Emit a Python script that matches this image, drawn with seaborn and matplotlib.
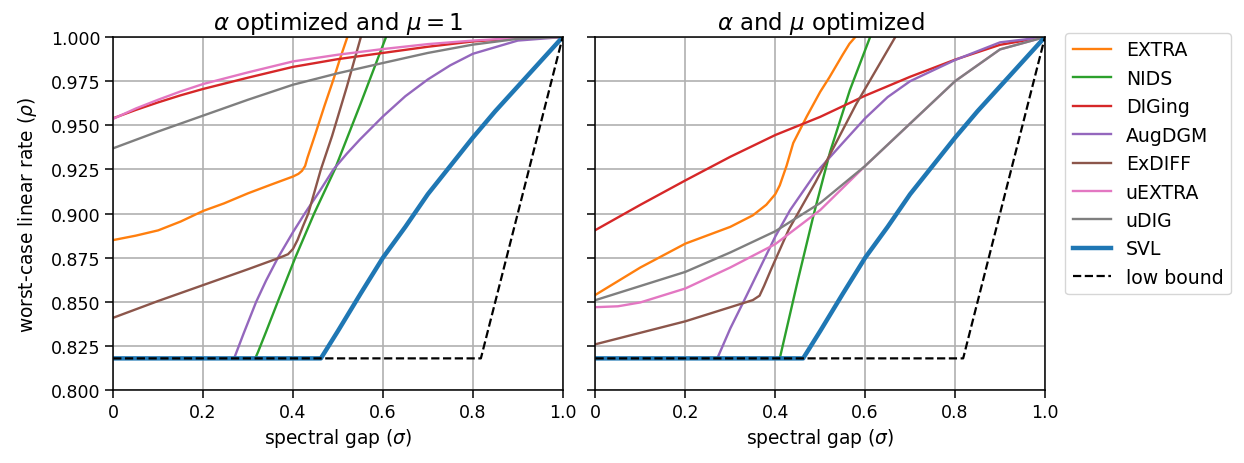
import matplotlib
matplotlib.use("Agg")
import matplotlib.pyplot as plt
import seaborn as sns
from matplotlib.ticker import FormatStrFormatter

# ---- panel 1: alpha optimized, mu = 1 ----
extra_x1 = [0, 0.05, 0.1, 0.15, 0.2, 0.2467, 0.3, 0.35, 0.4, 0.412, 0.42, 0.427, 0.432, 0.449, 0.47, 0.49, 0.505, 0.521, 0.53]
extra_y1 = [0.885, 0.8875, 0.8905, 0.8955, 0.9015, 0.9058, 0.9115, 0.9163, 0.921, 0.9225, 0.9242, 0.927, 0.9315, 0.9445, 0.961, 0.976, 0.988, 1.0, 1.007]
nids_x1 = [0.316, 0.322, 0.34, 0.366, 0.405, 0.447, 0.493, 0.55, 0.607, 0.615]
nids_y1 = [0.818, 0.8215, 0.833, 0.85, 0.875, 0.9, 0.925, 0.962, 1.0, 1.005]
diging_x1 = [0, 0.05, 0.1, 0.15, 0.2, 0.3, 0.4, 0.5, 0.6, 0.7, 0.8, 0.9, 1.0]
diging_y1 = [0.954, 0.9587, 0.963, 0.967, 0.9706, 0.977, 0.9831, 0.9875, 0.991, 0.9945, 0.9975, 0.9993, 1.0]
augdgm_x1 = [0.269, 0.29, 0.318, 0.34, 0.3665, 0.4, 0.426, 0.46, 0.49, 0.52, 0.549, 0.6, 0.65, 0.7, 0.75, 0.8, 0.9, 1.0]
augdgm_y1 = [0.818, 0.832, 0.85, 0.862, 0.875, 0.8895, 0.9, 0.913, 0.925, 0.934, 0.942, 0.955, 0.9665, 0.976, 0.984, 0.9905, 0.998, 1.0]
exdiff_x1 = [0, 0.1, 0.2, 0.3, 0.37, 0.389, 0.4, 0.41, 0.4224, 0.434, 0.462, 0.487, 0.52, 0.551, 0.56]
exdiff_y1 = [0.841, 0.8505, 0.8595, 0.8685, 0.875, 0.877, 0.88, 0.885, 0.893, 0.9, 0.925, 0.944, 0.972, 1.0, 1.008]
uextra_x1 = [0, 0.05, 0.1, 0.15, 0.2, 0.3, 0.4, 0.5, 0.6, 0.7, 0.8, 0.9, 1.0]
uextra_y1 = [0.9537, 0.9595, 0.9645, 0.9692, 0.9734, 0.980, 0.9862, 0.990, 0.9932, 0.996, 0.998, 0.9995, 1.0]
udig_x1 = [0, 0.1, 0.2, 0.3, 0.4, 0.5, 0.6, 0.7, 0.8, 0.9, 1.0]
udig_y1 = [0.937, 0.9465, 0.9555, 0.9645, 0.973, 0.9795, 0.9853, 0.991, 0.9957, 0.999, 1.0]

# ---- panel 2: alpha and mu optimized ----
extra_x2 = [0, 0.1, 0.2, 0.3, 0.35, 0.38, 0.4, 0.41, 0.425, 0.44, 0.47, 0.5, 0.52, 0.55, 0.565, 0.578, 0.585]
extra_y2 = [0.854, 0.8695, 0.883, 0.8925, 0.899, 0.905, 0.911, 0.916, 0.927, 0.940, 0.955, 0.969, 0.977, 0.99, 0.9962, 1.0, 1.003]
nids_x2 = [0.41, 0.45, 0.486, 0.522, 0.566, 0.611, 0.62]
nids_y2 = [0.818, 0.862, 0.9, 0.935, 0.97, 1.0, 1.006]
diging_x2 = [0, 0.1, 0.2, 0.3, 0.4, 0.5, 0.6, 0.7, 0.8, 0.9, 1.0]
diging_y2 = [0.8907, 0.905, 0.9188, 0.9322, 0.9445, 0.9548, 0.9668, 0.9775, 0.9872, 0.9956, 1.0]
augdgm_x2 = [0.271, 0.3, 0.336, 0.4, 0.433, 0.49, 0.55, 0.6, 0.65, 0.7, 0.8, 0.9, 1.0]
augdgm_y2 = [0.818, 0.835, 0.8535, 0.887, 0.902, 0.923, 0.940, 0.954, 0.966, 0.975, 0.987, 0.997, 1.0]
exdiff_x2 = [0, 0.1, 0.2, 0.3, 0.35, 0.365, 0.375, 0.39, 0.43, 0.49, 0.58, 0.667, 0.675]
exdiff_y2 = [0.826, 0.8325, 0.839, 0.847, 0.851, 0.8535, 0.859, 0.868, 0.891, 0.918, 0.962, 1.0, 1.004]
uextra_x2 = [0, 0.05, 0.1, 0.2, 0.3, 0.4, 0.5, 0.6, 0.7, 0.8, 0.9, 1.0]
uextra_y2 = [0.847, 0.8475, 0.8497, 0.8576, 0.8695, 0.8827, 0.902, 0.927, 0.951, 0.975, 0.993, 1.0]
udig_x2 = [0, 0.1, 0.2, 0.3, 0.4, 0.5, 0.6, 0.7, 0.8, 0.9, 1.0]
udig_y2 = [0.851, 0.859, 0.867, 0.878, 0.890, 0.906, 0.927, 0.951, 0.975, 0.993, 1.0]

# SVL and lower bound are the same in both panels
svl_x = [0, 0.462, 0.5, 0.55, 0.6, 0.65, 0.7, 0.75, 0.8, 0.85, 0.9, 0.95, 1.0]
svl_y = [0.818, 0.818, 0.8335, 0.8545, 0.875, 0.8925, 0.911, 0.927, 0.943, 0.958, 0.972, 0.986, 1.0]
low_x = [0, 0.818, 1.0]
low_y = [0.818, 0.818, 1.0]

names = ["EXTRA", "NIDS", "DIGing", "AugDGM", "ExDIFF", "uEXTRA", "uDIG"]
panel1 = [(extra_x1, extra_y1), (nids_x1, nids_y1), (diging_x1, diging_y1), (augdgm_x1, augdgm_y1),
          (exdiff_x1, exdiff_y1), (uextra_x1, uextra_y1), (udig_x1, udig_y1)]
panel2 = [(extra_x2, extra_y2), (nids_x2, nids_y2), (diging_x2, diging_y2), (augdgm_x2, augdgm_y2),
          (exdiff_x2, exdiff_y2), (uextra_x2, uextra_y2), (udig_x2, udig_y2)]
titles = [r"$\alpha$ optimized and $\mu = 1$", r"$\alpha$ and $\mu$ optimized"]

pal = sns.color_palette("tab10")
colors = [pal[1], pal[2], pal[3], pal[4], pal[5], pal[6], pal[7]]

plt.rcParams["axes.linewidth"] = 1.1
fig, axes = plt.subplots(1, 2, figsize=(12.44, 4.64), dpi=100, sharey=True)
fig.subplots_adjust(left=0.091, right=0.840, top=0.918, bottom=0.157, wspace=0.073)

for ax, series, title in zip(axes, [panel1, panel2], titles):
    for name, (xs, ys), c in zip(names, series, colors):
        sns.lineplot(x=xs, y=ys, ax=ax, color=c, linewidth=1.7, label=name, sort=False)
    sns.lineplot(x=svl_x, y=svl_y, ax=ax, color=pal[0], linewidth=3.2, label="SVL", sort=False)
    sns.lineplot(x=low_x, y=low_y, ax=ax, color="black", linewidth=1.6, linestyle="--",
                 label="low bound", sort=False)
    if ax.get_legend() is not None:
        ax.get_legend().remove()
    ax.set_xlim(0, 1)
    ax.set_ylim(0.8, 1.0)
    ax.set_xticks([0, 0.2, 0.4, 0.6, 0.8, 1.0])
    ax.set_xticklabels(["0", "0.2", "0.4", "0.6", "0.8", "1.0"])
    ax.set_yticks([0.8, 0.825, 0.85, 0.875, 0.9, 0.925, 0.95, 0.975, 1.0])
    ax.yaxis.set_major_formatter(FormatStrFormatter("%.3f"))
    ax.tick_params(labelsize=12.5, length=5.5, width=1.1)
    ax.grid(True, color="#b0b0b0", linewidth=1.2)
    ax.set_axisbelow(True)
    ax.set_title(title, fontsize=16.5)
    ax.set_xlabel(r"spectral gap ($\sigma$)", fontsize=13.4)

axes[0].set_ylabel(r"worst-case linear rate ($\rho$)", fontsize=13.4, labelpad=9)
axes[1].set_ylabel("")
axes[1].tick_params(labelleft=False)

handles, labels = axes[1].get_legend_handles_labels()
axes[1].legend(handles, labels, loc="upper left", bbox_to_anchor=(1.045, 1.012),
               borderaxespad=0, fontsize=13.6)

plt.savefig("out.png", dpi=100)
